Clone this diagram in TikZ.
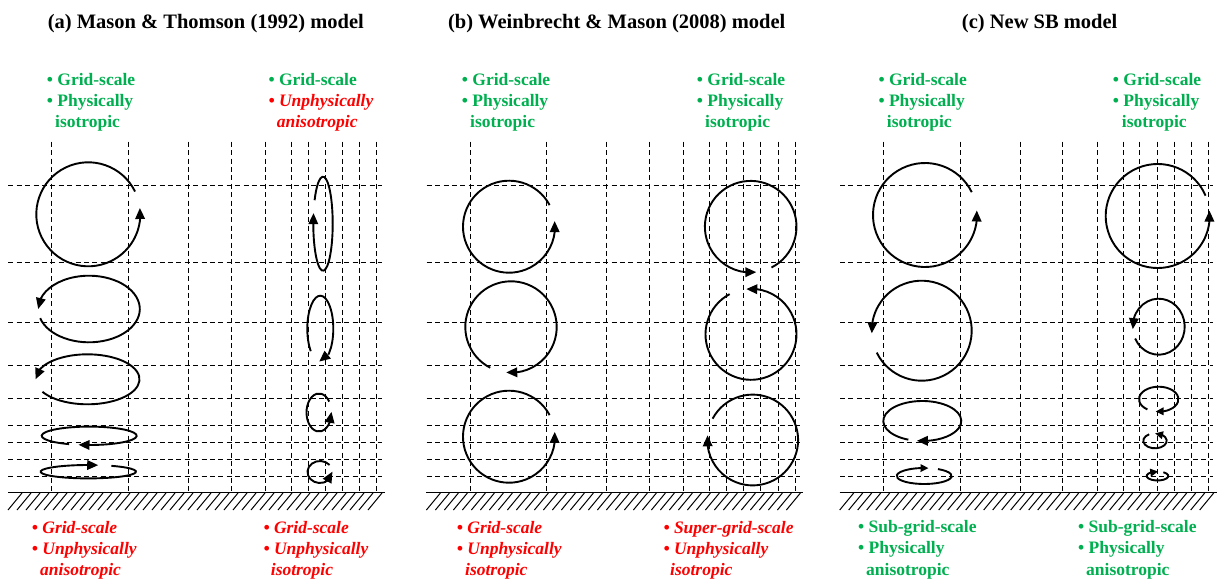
\documentclass[tikz,border=0pt]{standalone}
\usepackage{fontspec}
\setmainfont{Liberation Serif}
\usetikzlibrary{arrows.meta,bending}
\definecolor{sbgreen}{RGB}{0,176,80}
\definecolor{sbred}{RGB}{255,0,0}
\newcommand\vort[7][]{\draw[vort,#1] ([shift={(#6:#4pt and #5pt)}]#2,#3) arc[start angle=#6,end angle=#7,x radius=#4pt,y radius=#5pt];}
\newcommand\panelgrid{%
  \foreach \x in {51.7,128.5,188.5,231,265.5,291.3,308,325.5,342.5,359.8,376.8} \draw[gridln] (\x,141.7) -- (\x,492.7);
  \foreach \y in {185,262.7,322.3,365,398.3,425,442.3,459.3,476} \draw[gridln] (8.3,\y) -- (381.7,\y);
  \draw[groundln] (8,492.7) -- (385,492.7);
  \foreach \i in {0,...,40} \draw[hatchln] (8+9*\i,510) -- ++(14,-17);
}
\begin{document}
\begin{tikzpicture}[x=1pt,y=-1pt,
  gridln/.style={line width=1pt,dash pattern=on 5pt off 3.4pt},
  groundln/.style={line width=1.5pt},
  hatchln/.style={line width=1pt},
  vort/.style={line width=1.9pt,-{Triangle[length=11pt,width=9.5pt]}},
  smallarr/.style={-{Triangle[length=8pt,width=7.5pt]}},
  ttl/.style={font=\fontsize{20.5}{24}\selectfont\bfseries,anchor=base,inner sep=0pt},
  lg/.style={font=\fontsize{17.5}{21}\selectfont\bfseries,text=sbgreen,anchor=base west,inner sep=0pt},
  lr/.style={font=\fontsize{17.5}{21}\selectfont\bfseries\itshape,text=sbred,anchor=base west,inner sep=0pt}]
\useasboundingbox[fill=white] (0,0) rectangle (1219,581);

% ---------- titles
\node[ttl] (ta) at (205.8,28.5) {(a) Mason \& Thomson (1992) model};
\node[ttl] (tb) at (616.7,28.5) {(b) Weinbrecht \& Mason (2008) model};
\node[ttl] (tc) at (1039.7,28.5) {(c) New SB model};

% ---------- panel (a)
\begin{scope}
\panelgrid
\vort{88.3}{214.3}{52}{52}{26}{367}
\vort{89}{309}{50.8}{33.3}{196}{540}
\vort{87.5}{379.3}{52}{25}{210}{540}
\vort{89.2}{435.8}{47.5}{9.2}{245}{-103}
\vort{88.3}{471.7}{47.7}{6.7}{61}{-282}
\vort{323}{223.7}{9.7}{47}{150}{-193}
\vort{320.3}{328.7}{13}{33}{223}{-95}
\vort{319}{412.5}{12.5}{19}{35}{362}
\vort{320}{472}{12.5}{11}{40}{362}
\end{scope}

% ---------- panel (b)
\begin{scope}[xshift=418.4pt]
\panelgrid
\vort{90.6}{226.7}{46}{46}{28}{367}
\vort{92.6}{327}{45.7}{45.7}{243}{-96}
\vort{90.6}{436.7}{46}{46}{28}{366}
\vort{332.3}{226.7}{45.8}{45.8}{-63}{277}
\vort{332.6}{334.3}{45.5}{45.5}{118}{456}
\vort{334.3}{440}{45.4}{45.4}{152}{-186}
\end{scope}

% ---------- panel (c)
\begin{scope}[xshift=831.7pt]
\panelgrid
\vort{93.3}{215}{52}{52}{26}{365}
\vort{90}{330.7}{50}{50}{206}{543}
\vort{90.6}{421}{39}{20}{249}{-98}
\vort[smallarr]{92.5}{476}{27.5}{8}{60}{-279}
\vort{326}{216}{52}{52}{23}{366}
\vort{327}{326.7}{26}{28}{205}{545}
\vort[smallarr]{327}{399.2}{19.7}{12.5}{235}{-99}
\vort[smallarr]{323.3}{440.8}{11.7}{7.5}{120}{450}
\vort[smallarr]{325.8}{476}{10.8}{4.5}{57}{-274}
\end{scope}

% ---------- top labels
\node[lg] (aTL1) at (46.7,85) {• Grid-scale};
\node[lg] (aTL2) at (46.7,106) {• Physically};
\node[lg] (aTL3) at (55,127) {isotropic};
\node[lg] (aTR1) at (268.3,85) {• Grid-scale};
\node[lr] (aTR2) at (268.3,106) {• Unphysically};
\node[lr] (aTR3) at (276.7,127) {anisotropic};

\node[lg] (bTL1) at (461.7,85) {• Grid-scale};
\node[lg] (bTL2) at (461.7,106) {• Physically};
\node[lg] (bTL3) at (470,127) {isotropic};
\node[lg] (bTR1) at (696.7,85) {• Grid-scale};
\node[lg] (bTR2) at (696.7,106) {• Physically};
\node[lg] (bTR3) at (705,127) {isotropic};

\node[lg] (cTL1) at (878.3,85) {• Grid-scale};
\node[lg] (cTL2) at (878.3,106) {• Physically};
\node[lg] (cTL3) at (886.7,127) {isotropic};
\node[lg] (cTR1) at (1112.7,85) {• Grid-scale};
\node[lg] (cTR2) at (1112.7,106) {• Physically};
\node[lg] (cTR3) at (1121.7,127) {isotropic};

% ---------- bottom labels
\node[lr] (aBL1) at (31.7,533.5) {• Grid-scale};
\node[lr] (aBL2) at (31.7,554.5) {• Unphysically};
\node[lr] (aBL3) at (40,575.5) {anisotropic};
\node[lr] (aBR1) at (263.3,533.5) {• Grid-scale};
\node[lr] (aBR2) at (263.3,554.5) {• Unphysically};
\node[lr] (aBR3) at (270.7,575.5) {isotropic};

\node[lr] (bBL1) at (456.7,533.5) {• Grid-scale};
\node[lr] (bBL2) at (456.7,554.5) {• Unphysically};
\node[lr] (bBL3) at (465,575.5) {isotropic};
\node[lr] (bBR1) at (663.3,533.5) {• Super-grid-scale};
\node[lr] (bBR2) at (663.3,554.5) {• Unphysically};
\node[lr] (bBR3) at (670,575.5) {isotropic};

\node[lg] (cBL1) at (858,532) {• Sub-grid-scale};
\node[lg] (cBL2) at (858,553.5) {• Physically};
\node[lg] (cBL3) at (866,575) {anisotropic};
\node[lg] (cBR1) at (1078,532) {• Sub-grid-scale};
\node[lg] (cBR2) at (1078,553.5) {• Physically};
\node[lg] (cBR3) at (1086,575) {anisotropic};
\end{tikzpicture}
\end{document}
